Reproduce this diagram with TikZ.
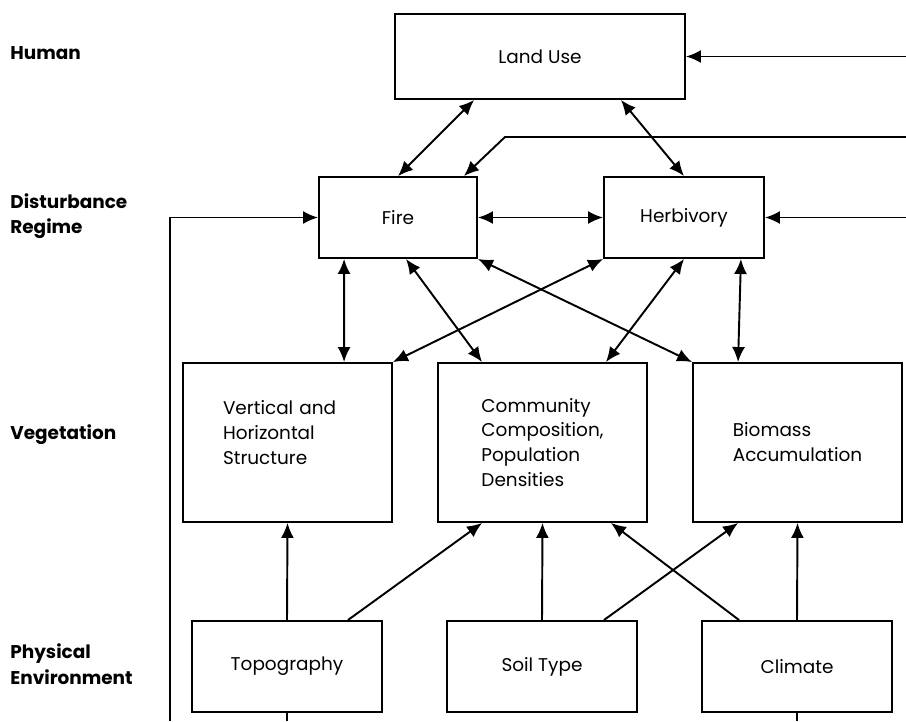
\documentclass[tikz,border=0pt]{standalone}
\usepackage{fontspec}
\setmainfont{Poppins}
\usepackage{tikz}
\usetikzlibrary{arrows.meta,calc}

\begin{document}
\begin{tikzpicture}[
    x=0.02cm, y=-0.02cm,
    >={Latex[length=3mm,width=2.6mm]},
    box/.style={rectangle, draw, line width=1.1pt, minimum width=3.16cm, minimum height=1.62cm, align=center, font=\fontsize{10.5}{14.2}\selectfont},
    vegbox/.style={box, minimum width=4.18cm, minimum height=3.18cm, align=left},
    physbox/.style={box, minimum width=3.8cm, minimum height=1.82cm},
    lbl/.style={anchor=west, align=left, inner sep=0pt, font=\fontsize{10.5}{14.5}\selectfont\bfseries},
    arrow/.style={->, line width=1.1pt},
    dblarrow/.style={<->, line width=1.1pt}
]
\useasboundingbox (0,0) rectangle (906,721);

% Levels
\node[lbl] (human) at (10,53) {Human};
\node[lbl] (dist) at (10,216) {Disturbance\\Regime};
\node[lbl] (veg) at (10,435) {Vegetation};
\node[lbl] (phys) at (10,664) {Physical\\Environment};

% Human and disturbance
\node[box, minimum width=5.8cm, minimum height=1.7cm] (land) at (540,56.5) {Land Use};
\node[box] (fire) at (398,217.5) {Fire};
\node[box, minimum width=3.2cm] (herb) at (684,217.5) {Herbivory};

% Vegetation
\node[vegbox, text width=2.58cm, text depth=1.4cm] (vert) at (287.5,442.5) {Vertical and\\Horizontal\\Structure};
\node[vegbox] (comm) at (542.5,442.5) {Community\\Composition,\\Population\\Densities};
\node[vegbox] (bio) at (797.5,442.5) {Biomass\\Accumulation};

% Physical environment
\node[physbox] (topo) at (287,666.5) {Topography};
\node[physbox] (soil) at (542,666.5) {Soil Type};
\node[physbox] (clim) at (797,666.5) {Climate};

% Open ends
\coordinate (luin) at (906,56.5);
\coordinate (fbk) at (906,137);
\coordinate (hbin) at (906,217.5);
\coordinate (lfoot) at (170,721);
\coordinate (tfoot) at (287,721);
\coordinate (cfoot) at (797,721);

% Arrows
\draw[dblarrow] ($(land.south west)+(80,0)$) -- (fire.north);
\draw[dblarrow] ($(land.south east)+(-65,0)$) -- (herb.north);
\draw[dblarrow] (fire) -- (herb);

\draw[arrow] (luin) -- (land.east);
\draw[arrow] (fbk) -- ++(-401,0) -- ($(fire.north east)+(-14,0)$);
\draw[arrow] (hbin) -- (herb.east);
\draw[arrow] (lfoot) |- (fire.west);

\draw[dblarrow] ($(fire.south west)+(26,0)$) -- ($(vert.north west)+(162,0)$);
\draw[dblarrow] ($(fire.south)+(8,0)$) -- ($(comm.north west)+(45,0)$);
\draw[dblarrow] (fire.south east) -- (bio.north west);
\draw[dblarrow] (herb.south west) -- (vert.north east);
\draw[dblarrow] (herb.south) -- ($(comm.north east)+(-42,0)$);
\draw[dblarrow] ($(herb.south east)+(-24,0)$) -- ($(bio.north west)+(46,0)$);

\draw[arrow] (topo.north) -- (vert.south);
\draw[arrow] ($(topo.north east)+(-35,0)$) -- ($(comm.south west)+(45,0)$);
\draw[arrow] (soil.north) -- (comm.south);
\draw[arrow] ($(soil.north east)+(-34,0)$) -- ($(bio.south west)+(46,0)$);
\draw[arrow] ($(clim.north west)+(38,0)$) -- ($(comm.south east)+(-37,0)$);
\draw[arrow] (clim.north) -- (bio.south);

\draw[line width=1.1pt] (topo.south) -- (tfoot);
\draw[line width=1.1pt] (clim.south) -- (cfoot);

\end{tikzpicture}
\end{document}
